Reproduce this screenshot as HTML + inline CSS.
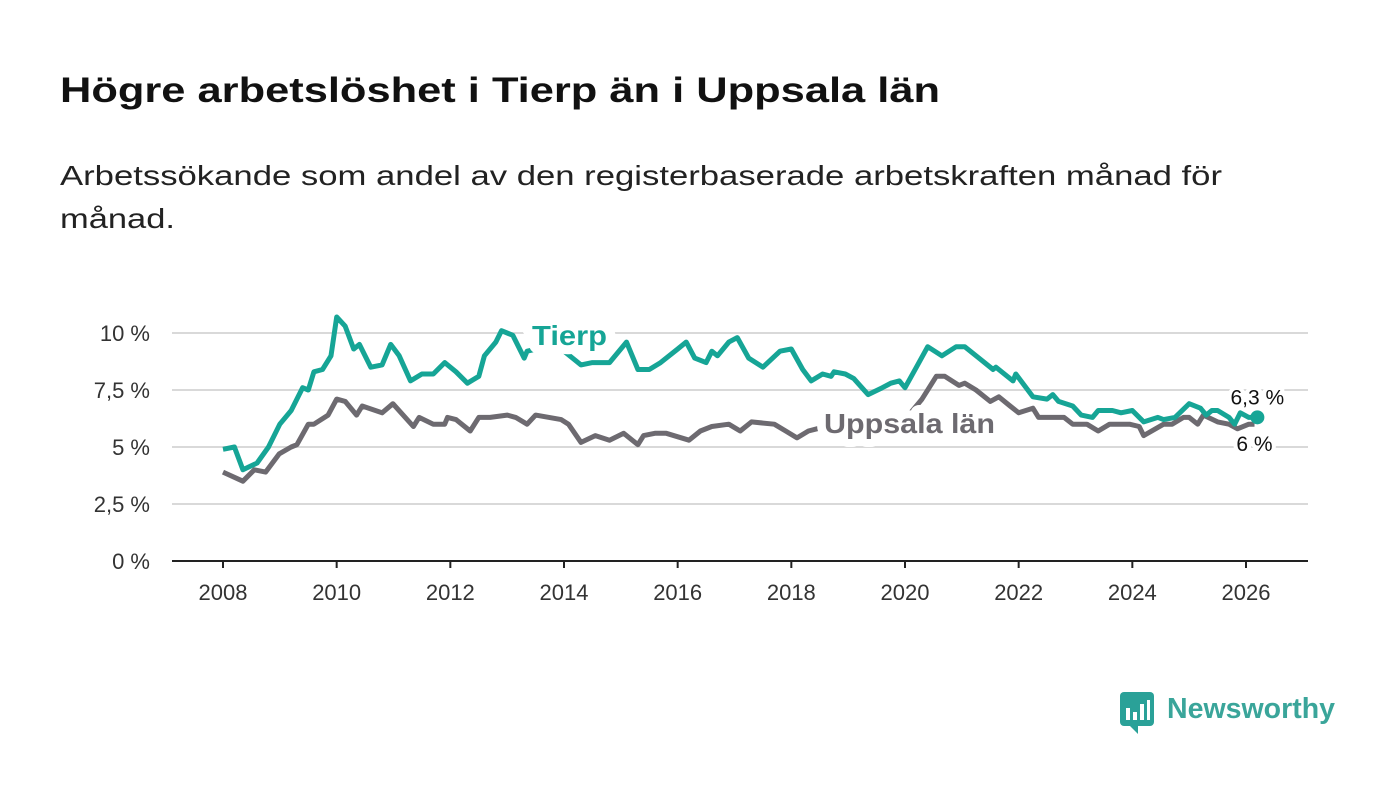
<!DOCTYPE html>
<html><head><meta charset="utf-8"><style>
html,body{margin:0;padding:0;background:#fff;}
svg{display:block;font-family:"Liberation Sans",sans-serif;}
</style></head><body>
<svg id="chart" width="1400" height="794" viewBox="0 0 1400 794">
<text x="60" y="102" font-size="35" font-weight="bold" fill="#111" textLength="880" lengthAdjust="spacingAndGlyphs">Högre arbetslöshet i Tierp än i Uppsala län</text>
<text x="60" y="185" font-size="28" fill="#222" textLength="1162" lengthAdjust="spacingAndGlyphs">Arbetssökande som andel av den registerbaserade arbetskraften månad för</text>
<text x="60" y="228" font-size="28" fill="#222" textLength="115" lengthAdjust="spacingAndGlyphs">månad.</text>
<g id="grid"></g><g id="lines"></g><g id="labels"></g>
<g>
<rect x="1120" y="692" width="34" height="34" rx="4" fill="#2aa198"/>
<path d="M1130 726 L1138 734 L1138 726 Z" fill="#2aa198"/>
<rect x="1126" y="708" width="4" height="12" fill="#fff"/><rect x="1133" y="712" width="4" height="8" fill="#fff"/><rect x="1140" y="704" width="4" height="16" fill="#fff"/><rect x="1147" y="700" width="3" height="20" fill="#fff"/>
<text x="1167" y="718" font-size="29" font-weight="bold" fill="#3aa59a" textLength="168" lengthAdjust="spacingAndGlyphs">Newsworthy</text>
</g>
</svg>
<script>
const yTicks=[0,2.5,5,7.5,10];
const yTickLabels=["0 %","2,5 %","5 %","7,5 %","10 %"];
const xTicks=[2008,2010,2012,2014,2016,2018,2020,2022,2024,2026];
const tierpYears=[2008.0,2008.2,2008.35,2008.6,2008.8,2009.0,2009.2,2009.4,2009.5,2009.6,2009.75,2009.9,2010.0,2010.15,2010.3,2010.4,2010.6,2010.8,2010.95,2011.1,2011.3,2011.5,2011.7,2011.9,2012.1,2012.3,2012.5,2012.6,2012.8,2012.9,2013.1,2013.3,2013.35,2013.7,2014.0,2014.3,2014.5,2014.8,2015.1,2015.3,2015.5,2015.7,2016.0,2016.15,2016.3,2016.5,2016.6,2016.7,2016.9,2017.05,2017.25,2017.5,2017.8,2018.0,2018.2,2018.35,2018.55,2018.7,2018.75,2018.95,2019.1,2019.35,2019.6,2019.75,2019.9,2020.0,2020.2,2020.4,2020.65,2020.9,2021.05,2021.3,2021.55,2021.6,2021.9,2021.95,2022.25,2022.5,2022.6,2022.7,2022.95,2023.1,2023.3,2023.4,2023.65,2023.8,2024.0,2024.2,2024.45,2024.55,2024.75,2025.0,2025.2,2025.3,2025.4,2025.5,2025.7,2025.8,2025.9,2026.05,2026.2];
const tierpValues=[4.9,5.0,4.0,4.3,5.0,6.0,6.6,7.6,7.5,8.3,8.4,9.0,10.7,10.3,9.3,9.5,8.5,8.6,9.5,9.0,7.9,8.2,8.2,8.7,8.3,7.8,8.1,9.0,9.6,10.1,9.9,8.9,9.2,9.4,9.2,8.6,8.7,8.7,9.6,8.4,8.4,8.7,9.3,9.6,8.9,8.7,9.2,9.0,9.6,9.8,8.9,8.5,9.2,9.3,8.4,7.9,8.2,8.1,8.3,8.2,8.0,7.3,7.6,7.8,7.9,7.6,8.5,9.4,9.0,9.4,9.4,8.9,8.4,8.5,7.9,8.2,7.2,7.1,7.3,7.0,6.8,6.4,6.3,6.6,6.6,6.5,6.6,6.1,6.3,6.2,6.3,6.9,6.7,6.4,6.6,6.6,6.3,6.0,6.5,6.3,6.3];
const uppYears=[2008.0,2008.35,2008.55,2008.75,2008.99,2009.2,2009.3,2009.5,2009.6,2009.85,2010.0,2010.15,2010.35,2010.45,2010.8,2010.99,2011.35,2011.45,2011.7,2011.9,2011.95,2012.1,2012.35,2012.5,2012.7,2013.0,2013.15,2013.35,2013.5,2013.95,2014.08,2014.3,2014.55,2014.8,2015.05,2015.3,2015.4,2015.6,2015.8,2016.2,2016.4,2016.6,2016.9,2017.1,2017.3,2017.7,2017.9,2018.1,2018.3,2018.45,2018.6,2019.0,2019.5,2020.0,2020.3,2020.55,2020.7,2020.95,2021.05,2021.25,2021.5,2021.65,2021.85,2022.0,2022.25,2022.35,2022.6,2022.8,2022.95,2023.2,2023.4,2023.6,2023.8,2023.95,2024.12,2024.2,2024.55,2024.7,2024.9,2025.0,2025.15,2025.25,2025.5,2025.7,2025.85,2026.05,2026.15];
const uppValues=[3.9,3.5,4.0,3.9,4.7,5.0,5.1,6.0,6.0,6.4,7.1,7.0,6.4,6.8,6.5,6.9,5.9,6.3,6.0,6.0,6.3,6.2,5.7,6.3,6.3,6.4,6.3,6.0,6.4,6.2,6.0,5.2,5.5,5.3,5.6,5.1,5.5,5.6,5.6,5.3,5.7,5.9,6.0,5.7,6.1,6.0,5.7,5.4,5.7,5.8,5.9,6.0,6.0,6.2,7.1,8.1,8.1,7.7,7.8,7.5,7.0,7.2,6.8,6.5,6.7,6.3,6.3,6.3,6.0,6.0,5.7,6.0,6.0,6.0,5.9,5.5,6.0,6.0,6.3,6.3,6.0,6.4,6.1,6.0,5.8,6.0,6.0];
const NS="http://www.w3.org/2000/svg";
const x=v=>223+(v-2008)*(1246-223)/18;
const y=v=>561-v*22.8;
function mk(tag,attrs,parent){const e=document.createElementNS(NS,tag);for(const k in attrs)e.setAttribute(k,attrs[k]);parent.appendChild(e);return e;}
const grid=document.getElementById('grid'),lines=document.getElementById('lines'),labels=document.getElementById('labels');
yTicks.forEach((t,i)=>{
 if(t>0){const g=mk('line',{x1:172,x2:1308,y1:y(t),y2:y(t),stroke:'#d9d9d9','stroke-width':2},grid);
 
 }
 const l=mk('text',{x:150,y:y(t)+8,'font-size':22,'text-anchor':'end',fill:'#333'},grid);
 l.textContent=yTickLabels[i];
 
 
});
const ax=mk('line',{x1:172,x2:1308,y1:561,y2:561,stroke:'#222','stroke-width':2},grid);


xTicks.forEach(t=>{
 mk('line',{x1:x(t),x2:x(t),y1:561,y2:568,stroke:'#222','stroke-width':2},grid);
 const l=mk('text',{x:x(t),y:600,'font-size':22,'text-anchor':'middle',fill:'#333'},grid);
 l.textContent=t;
 
 
});
function path(xs,vs){return xs.map((t,i)=>(i?'L':'M')+x(t).toFixed(1)+' '+y(vs[i]).toFixed(1)).join(' ');}
const pu=mk('path',{d:path(uppYears,uppValues),fill:'none',stroke:'#6d6a70','stroke-width':5,'stroke-linejoin':'round'},lines);


const pt=mk('path',{d:path(tierpYears,tierpValues),fill:'none',stroke:'#16a596','stroke-width':5,'stroke-linejoin':'round'},lines);


const lt=tierpYears.length-1,lu=uppYears.length-1;
const dot=mk('circle',{cx:x(tierpYears[lt]),cy:y(tierpValues[lt]),r:7,fill:'#16a596'},lines);


function lab(txt,ax_,ay,opts,name,sw){const t=mk('text',Object.assign({x:ax_,y:ay,stroke:'#fff','stroke-width':sw||8,'paint-order':'stroke','stroke-linejoin':'round'},opts),labels);t.textContent=txt;}
lab('Tierp',532,345,{'font-size':28,'font-weight':'bold',fill:'#16a596',textLength:75,lengthAdjust:'spacingAndGlyphs'},'tierp-series-label',18);
lab('Uppsala län',824,433,{'font-size':28,'font-weight':'bold',fill:'#6d6a70',textLength:171,lengthAdjust:'spacingAndGlyphs'},'uppsala-series-label',16);
lab('6,3 %',x(tierpYears[lt]),y(tierpValues[lt])-13,{'font-size':21,'text-anchor':'middle',fill:'#111'},'tierp-end-value');
lab('6 %',x(uppYears[lu]),y(uppValues[lu])+27,{'font-size':21,'text-anchor':'middle',fill:'#111'},'uppsala-end-value');
</script>
</body></html>
